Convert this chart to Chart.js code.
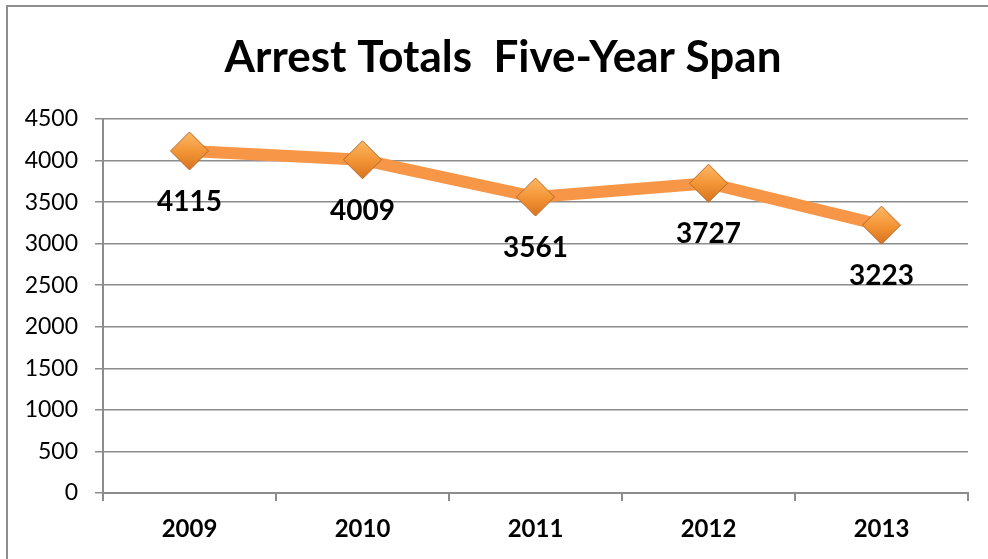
<!DOCTYPE html>
<html>
<head>
<meta charset="utf-8">
<script src="https://cdn.jsdelivr.net/npm/chart.js@4.4.1/dist/chart.umd.min.js"></script>
<style>
  html, body { margin: 0; padding: 0; background: #fff; overflow: hidden; }
  #wrap { position: relative; width: 988px; height: 559px; }
  #frame {
    position: absolute; left: 6px; top: 5px; width: 1000px; height: 600px;
    border-left: 2px solid #8e8e8e; border-top: 2px solid #8e8e8e;
    pointer-events: none;
  }
</style>
</head>
<body>
<div id="wrap">
  <canvas id="arrestChart" width="988" height="559"></canvas>
  <div id="frame"></div>
</div>
<script>
// arrest totals per year
const years = ["2009", "2010", "2011", "2012", "2013"];
const arrests = [4115, 4009, 3561, 3727, 3223];
const yTicks = [0, 500, 1000, 1500, 2000, 2500, 3000, 3500, 4000, 4500];
const chartTitle = "Arrest Totals  Five-Year Span";

const FONT = "Lato, 'Open Sans', sans-serif";
const GRID = "#8c8c8c";

// heading, centred a bit right of the canvas middle
const heading = {
  id: "heading",
  afterDraw(chart) {
    const ctx = chart.ctx;
    ctx.save();
    ctx.font = "bold 44px " + FONT;
    ctx.fillStyle = "#000";
    ctx.textAlign = "center";
    ctx.textBaseline = "middle";
    ctx.fillText(chartTitle, 503, 58);
    ctx.restore();
  }
};

// value labels under each diamond
const valueLabels = {
  id: "valueLabels",
  afterDatasetsDraw(chart) {
    const ctx = chart.ctx;
    const meta = chart.getDatasetMeta(0);
    ctx.save();
    ctx.font = "bold 28px " + FONT;
    ctx.fillStyle = "#000";
    ctx.textAlign = "center";
    ctx.textBaseline = "middle";
    meta.data.forEach((pt, i) => {
      ctx.fillText(String(arrests[i]), pt.x, pt.y + 51);
    });
    ctx.restore();
  }
};

// diamond fill: light orange on top, darker below
function diamondFill(c) {
  const chart = c.chart;
  if (c.type !== "data" || !chart.chartArea) return "#f28e2f";
  const y = chart.scales.y.getPixelForValue(c.parsed.y);
  const g = chart.ctx.createLinearGradient(0, y - 19, 0, y + 19);
  g.addColorStop(0, "#fdb866");
  g.addColorStop(0.5, "#f39637");
  g.addColorStop(1, "#d9731d");
  return g;
}

new Chart(document.getElementById("arrestChart"), {
  type: "line",
  data: {
    labels: years,
    datasets: [{
      data: arrests,
      borderColor: "#f79646",
      borderWidth: 12,
      borderJoinStyle: "round",
      borderCapStyle: "round",
      tension: 0,
      pointStyle: "rectRot",
      pointRadius: 19,
      pointHoverRadius: 19,
      pointBackgroundColor: diamondFill,
      pointBorderColor: "#b8692a",
      pointBorderWidth: 1
    }]
  },
  options: {
    responsive: false,
    animation: false,
    layout: { padding: { left: 0, right: 15, top: 119, bottom: 0 } },
    plugins: {
      legend: { display: false },
      tooltip: { enabled: false },
      title: { display: false }
    },
    scales: {
      x: {
        offset: true,
        grid: {
          offset: true,
          drawOnChartArea: false,
          drawTicks: true,
          tickLength: 8,
          color: GRID,
          lineWidth: 2
        },
        border: { display: true, color: GRID, width: 2 },
        ticks: {
          color: "#000",
          padding: 14,
          font: { family: FONT, size: 24, weight: "bold" }
        },
        afterFit(scale) { scale.height = 66; }
      },
      y: {
        min: 0,
        max: 4500,
        afterBuildTicks(scale) { scale.ticks = yTicks.map(v => ({ value: v })); },
        grid: { color: GRID, lineWidth: 1.5, tickLength: 8 },
        border: { display: true, color: GRID, width: 2 },
        ticks: {
          color: "#000",
          padding: 17,
          font: { family: FONT, size: 23 },
          callback: (v) => String(v)
        },
        afterFit(scale) { scale.width = 103; }
      }
    }
  },
  plugins: [valueLabels, heading]
});
</script>
</body>
</html>
